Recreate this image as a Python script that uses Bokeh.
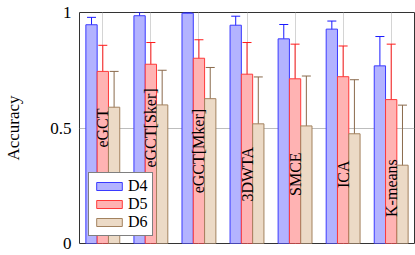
import numpy as np
from bokeh.plotting import figure
from bokeh.models import ColumnDataSource, Range1d, Whisker, TeeHead, Legend, LegendItem, FixedTicker
from bokeh.core.properties import value
from bokeh.embed import file_html
from bokeh.resources import INLINE

methods = ["eGCT", "eGCT[Sker]", "eGCT[Mker]", "3DWTA", "SMCE", "ICA", "K-means"]
d4_mean = [0.947, 0.986, 0.997, 0.945, 0.886, 0.928, 0.769]
d4_err = [0.032, 0.015, 0.003, 0.039, 0.062, 0.035, 0.127]
d5_mean = [0.745, 0.776, 0.802, 0.733, 0.713, 0.722, 0.623]
d5_err = [0.113, 0.094, 0.080, 0.137, 0.150, 0.133, 0.240]
d6_mean = [0.590, 0.600, 0.627, 0.518, 0.509, 0.475, 0.339]
d6_err = [0.155, 0.150, 0.135, 0.203, 0.216, 0.234, 0.260]
series_names = ["D4", "D5", "D6"]
label_y = [0.5, 0.5, 0.4, 0.3, 0.3, 0.3, 0.24]
y_ticks = [0, 0.5, 1]
y_tick_labels = ["0", "0.5", "1"]

SERIF = "Liberation Serif"
idx = np.arange(len(methods))
bw = 0.235
offsets = [-bw, 0.0, bw]
fills = ["#b3b3ff", "#ffb3b3", "#ecdac6"]
lines = ["#3a3aff", "#ff3a3a", "#a3825f"]
errc = ["#1a1aff", "#ff1a1a", "#8a6a4c"]

p = figure(width=415, height=255, output_backend="svg", toolbar_location=None,
           x_range=Range1d(-0.485, 6.485), y_range=Range1d(0, 1),
           min_border_left=79, min_border_right=1, min_border_top=12, min_border_bottom=12)

means = [d4_mean, d5_mean, d6_mean]
errs = [d4_err, d5_err, d6_err]
renderers = []
for k in range(3):
    m = np.array(means[k]); e = np.array(errs[k])
    src = ColumnDataSource(dict(x=idx + offsets[k], top=m, up=m + e, lo=m - e))
    r = p.vbar(x="x", top="top", bottom=0, width=bw, source=src,
               fill_color=fills[k], line_color=lines[k], line_width=1)
    renderers.append(r)
    w = Whisker(base="x", upper="up", lower="lo", source=src, dimension="height",
                line_color=errc[k], line_width=1,
                upper_head=TeeHead(size=9, line_color=errc[k], line_width=1),
                lower_head=TeeHead(size=9, line_color=errc[k], line_width=1))
    p.add_layout(w)

lsrc = ColumnDataSource(dict(x=idx, y=label_y, t=methods))
p.text(x="x", y="y", text="t", source=lsrc, angle=np.pi / 2,
       text_align="center", text_baseline="middle",
       text_font=value(SERIF), text_font_size="16px", text_color="black")

p.xaxis.visible = False
p.yaxis.ticker = FixedTicker(ticks=y_ticks)
p.yaxis.major_label_overrides = {t: l for t, l in zip(y_ticks, y_tick_labels)}
p.yaxis.major_label_text_font = SERIF
p.yaxis.major_label_text_font_size = "17px"
p.yaxis.major_label_text_color = "black"
p.yaxis.major_label_standoff = 8
p.yaxis.major_tick_in = 0
p.yaxis.major_tick_out = 0
p.yaxis.minor_tick_in = 0
p.yaxis.minor_tick_out = 0
p.yaxis.axis_line_color = None
p.yaxis.axis_label = "Accuracy"
p.yaxis.axis_label_text_font = SERIF
p.yaxis.axis_label_text_font_size = "17px"
p.yaxis.axis_label_text_font_style = "normal"
p.yaxis.axis_label_text_color = "black"
p.yaxis.axis_label_standoff = 24

p.xgrid.ticker = FixedTicker(ticks=list(idx))
p.xgrid.grid_line_color = "#d4d4d4"
p.ygrid.ticker = FixedTicker(ticks=[0.5])
p.ygrid.grid_line_color = "#bdbdbd"
p.outline_line_color = "#333333"
p.outline_line_width = 1
p.background_fill_color = "white"
p.border_fill_color = "white"

legend = Legend(items=[LegendItem(label=series_names[k], renderers=[renderers[k]]) for k in range(3)],
                location=(9, 7), orientation="vertical",
                glyph_width=32, glyph_height=10, label_standoff=3,
                label_text_font=SERIF, label_text_font_size="16px", label_text_color="black",
                label_height=14, spacing=0, padding=4, margin=0,
                border_line_color="black", border_line_width=1,
                background_fill_color="white", background_fill_alpha=1)
p.add_layout(legend, "center")

open("out.html", "w").write(file_html(p, INLINE))
